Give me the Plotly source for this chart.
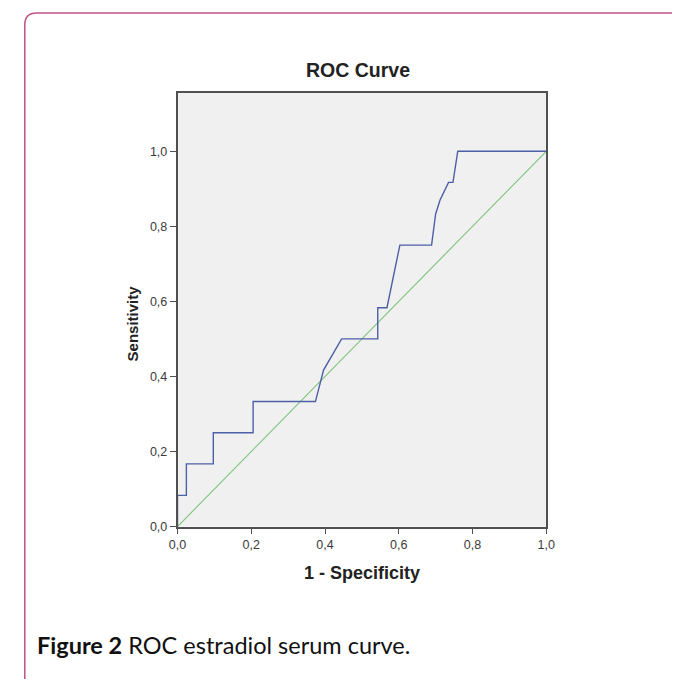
import plotly.graph_objects as go

# ROC curve data (1 - specificity, sensitivity)
fpr = [0.0, 0.0, 0.024, 0.024, 0.097, 0.097, 0.205, 0.205, 0.374, 0.396, 0.445,
       0.543, 0.543, 0.568, 0.603, 0.689, 0.700, 0.712, 0.735, 0.747, 0.760, 1.0]
tpr = [0.0, 0.083, 0.083, 0.167, 0.167, 0.25, 0.25, 0.333, 0.333, 0.417, 0.5,
       0.5, 0.583, 0.583, 0.75, 0.75, 0.833, 0.870, 0.917, 0.917, 1.0, 1.0]
ref_x = [0.0, 1.0]
ref_y = [0.0, 1.0]
tick_vals = [0.0, 0.2, 0.4, 0.6, 0.8, 1.0]

# page body has an 8px margin; keep the figure a little smaller than the window
OFF = 8
W, H = 680 - 2 * OFF, 697 - 2 * OFF - 10


def px(x):
    return (x - OFF) / W


def py(y):
    return 1 - (y - OFF) / H


fig = go.Figure()
fig.add_trace(go.Scatter(x=ref_x, y=ref_y, mode="lines",
                         line=dict(color="#7cc47c", width=1.1),
                         hoverinfo="skip", showlegend=False))
fig.add_trace(go.Scatter(x=fpr, y=tpr, mode="lines",
                         line=dict(color="#4d5fa6", width=1.4),
                         showlegend=False))

axis_common = dict(
    showgrid=False, zeroline=False, showline=True, linecolor="#505050",
    linewidth=1.5, mirror=True, ticks="outside", ticklen=6, tickwidth=1.2,
    tickcolor="#505050", tickvals=tick_vals, tickformat=".1f",
    tickfont=dict(family="Liberation Sans, Arial, sans-serif", size=12.5, color="#3a3a3a"),
)

fig.update_layout(
    width=W, height=H, autosize=False,
    margin=dict(l=0, r=0, t=0, b=0),
    paper_bgcolor="white", plot_bgcolor="#f0f0f0",
    separators=", ",
    xaxis=dict(domain=[px(173), px(552)], range=[0, 1], **axis_common),
    yaxis=dict(domain=[py(532), py(94)], range=[0, 1.155], **axis_common),
)

# outer rounded frame
r = 12
path = (f"M {px(720)},{py(13)} L {px(16 + r)},{py(13)} "
        f"Q {px(16)},{py(13)} {px(16)},{py(13 + r)} "
        f"L {px(16)},{py(700 - r)} Q {px(16)},{py(700)} {px(16 + r)},{py(700)} "
        f"L {px(720)},{py(700)}")
fig.add_shape(type="path", xref="paper", yref="paper", path=path,
              line=dict(color="#c0508a", width=1.5))

font_bold = "Liberation Sans, Arial, sans-serif"
common = dict(xref="paper", yref="paper", showarrow=False, yanchor="middle")
fig.add_annotation(text="<b>ROC Curve</b>", x=px(359), y=py(71), xanchor="center",
                   font=dict(family=font_bold, size=19.5, color="#222222"), **common)
fig.add_annotation(text="<b>1 - Specificity</b>", x=px(363), y=py(579), xanchor="center",
                   font=dict(family=font_bold, size=18, color="#222222"), **common)
fig.add_annotation(text="<b>Sensitivity</b>", x=px(127), y=py(327), xanchor="center",
                   textangle=-90,
                   font=dict(family=font_bold, size=15, color="#222222"), **common)
fig.add_annotation(text="<b>Figure 2</b> ROC estradiol serum curve.",
                   x=px(27), y=py(652), xanchor="left",
                   font=dict(family="Lato, Open Sans, sans-serif", size=23.5, color="#111111"),
                   **common)

fig.write_html("out.html")
